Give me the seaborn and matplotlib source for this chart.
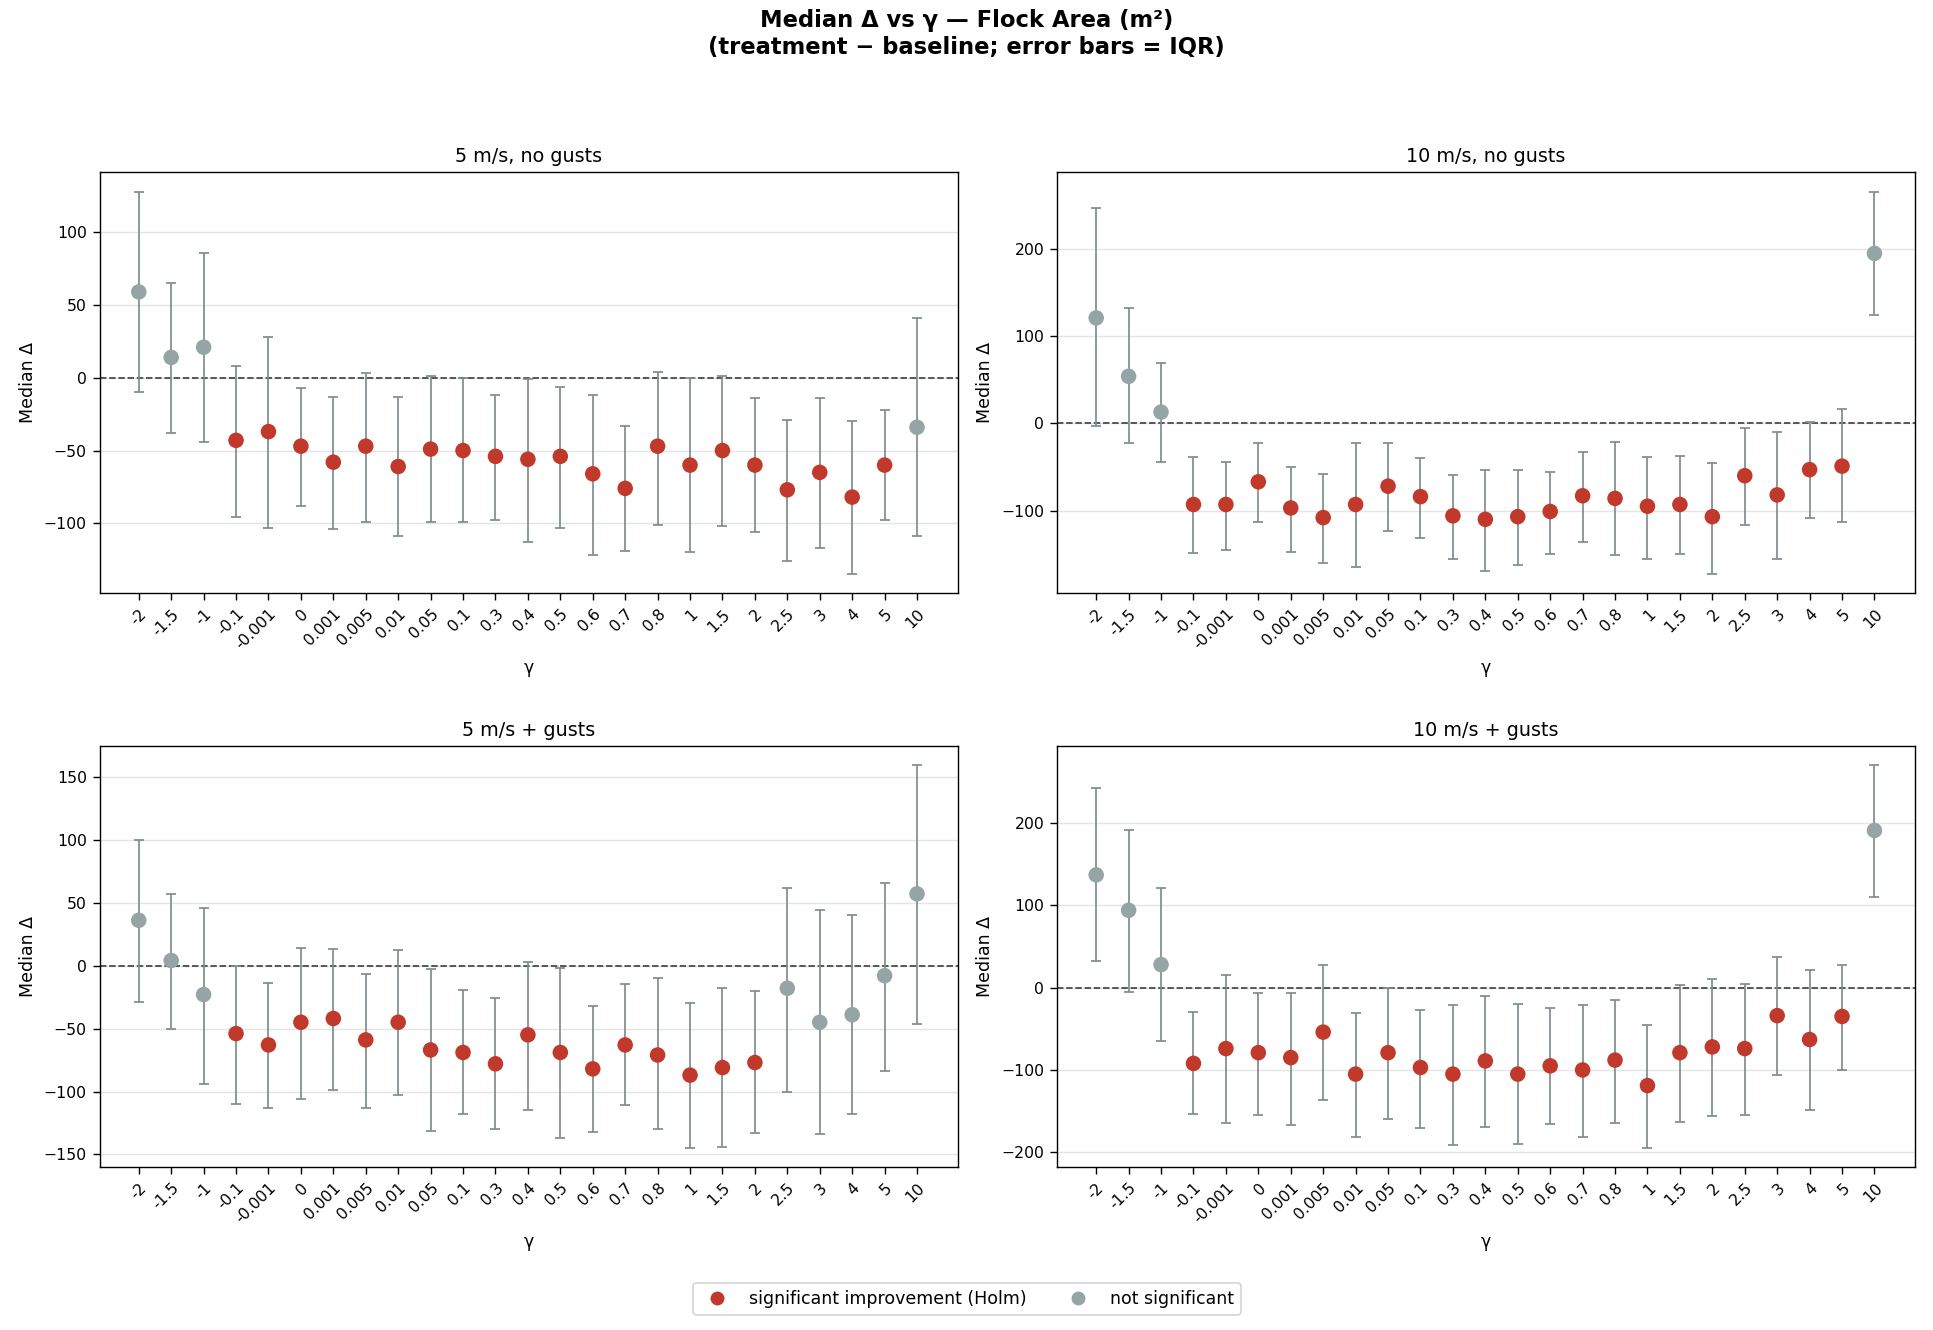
import numpy as np
import pandas as pd
import matplotlib
matplotlib.use("Agg")
import matplotlib.pyplot as plt
import seaborn as sns
from matplotlib.lines import Line2D

gammas = ["-2","-1.5","-1","-0.1","-0.001","0","0.001","0.005","0.01","0.05","0.1","0.3","0.4","0.5","0.6","0.7","0.8","1","1.5","2","2.5","3","4","5","10"]

titles = ["5 m/s, no gusts", "10 m/s, no gusts", "5 m/s + gusts", "10 m/s + gusts"]

med_5n = [59,14,21,-43,-37,-47,-58,-47,-61,-49,-50,-54,-56,-54,-66,-76,-47,-60,-50,-60,-77,-65,-82,-60,-34]
lo_5n = [-10,-38,-44,-96,-103,-88,-104,-99,-109,-99,-99,-98,-113,-103,-122,-119,-101,-120,-102,-106,-126,-117,-135,-98,-109]
hi_5n = [128,65,86,8,28,-7,-13,3,-13,1,0,-12,-1,-6,-12,-33,4,0,1,-14,-29,-14,-30,-22,41]
sig_5n = [0,0,0]+[1]*21+[0]

med_10n = [121,54,13,-93,-93,-67,-97,-108,-93,-72,-84,-106,-110,-107,-101,-83,-86,-95,-93,-107,-60,-82,-53,-49,195]
lo_10n = [-3,-22,-44,-149,-145,-113,-148,-160,-165,-123,-131,-156,-169,-162,-150,-136,-151,-155,-150,-173,-117,-155,-109,-113,124]
hi_10n = [247,132,69,-39,-44,-22,-50,-58,-22,-22,-40,-59,-53,-53,-56,-33,-21,-38,-37,-45,-5,-10,2,16,266]
sig_10n = [0,0,0]+[1]*21+[0]

med_5g = [36,4,-23,-54,-63,-45,-42,-59,-45,-67,-69,-78,-55,-69,-82,-63,-71,-87,-81,-77,-18,-45,-39,-8,57]
lo_5g = [-29,-50,-94,-110,-113,-106,-99,-113,-103,-131,-118,-130,-115,-137,-132,-111,-130,-145,-144,-133,-100,-134,-118,-84,-46]
hi_5g = [100,57,46,0,-14,14,13,-7,12,-3,-19,-26,3,-2,-32,-15,-10,-30,-18,-20,62,44,40,66,159]
sig_5g = [0,0,0]+[1]*17+[0,0,0,0,0]

med_10g = [137,94,28,-92,-74,-79,-85,-54,-105,-79,-97,-105,-89,-105,-95,-100,-88,-119,-79,-72,-74,-34,-63,-35,191]
lo_10g = [32,-5,-65,-154,-165,-155,-167,-137,-182,-159,-170,-191,-169,-190,-166,-181,-164,-195,-163,-156,-155,-106,-149,-100,110]
hi_10g = [242,192,121,-30,15,-6,-6,28,-31,-1,-27,-21,-10,-20,-25,-21,-15,-45,3,11,5,37,21,27,270]
sig_10g = [0,0,0]+[1]*21+[0]

panels = [(med_5n,lo_5n,hi_5n,sig_5n),(med_10n,lo_10n,hi_10n,sig_10n),
          (med_5g,lo_5g,hi_5g,sig_5g),(med_10g,lo_10g,hi_10g,sig_10g)]

RED = "#c0392b"
GREY = "#95a5a6"
ECOL = "#7f8c8d"

sns.set_style("white")
plt.rcParams['font.family'] = ['DejaVu Sans']
for k in ["text.color", "axes.labelcolor", "xtick.color", "ytick.color"]:
    plt.rcParams[k] = "black"

fig, axes = plt.subplots(2, 2, figsize=(15.47, 10.64), dpi=125)
for ax, title, (med, lo, hi, sig) in zip(axes.flat, titles, panels):
    df = pd.DataFrame({"gamma": gammas, "med": med, "lo": lo, "hi": hi,
                       "sig": ["sig" if s else "ns" for s in sig]})
    x = np.arange(len(gammas))
    ax.yaxis.grid(True, color="#e5e5e5", linewidth=0.8)
    ax.set_axisbelow(True)
    ax.errorbar(x, df["med"], yerr=[df["med"]-df["lo"], df["hi"]-df["med"]],
                fmt="none", ecolor=ECOL, elinewidth=1, capsize=3, zorder=2)
    sns.scatterplot(data=df, x="gamma", y="med", hue="sig",
                    palette={"sig": RED, "ns": GREY}, s=80, edgecolor="none",
                    legend=False, ax=ax, zorder=3)
    ax.axhline(0, color="#444444", linestyle="--", linewidth=1, zorder=1)
    ax.set_xlim(-1.2, 25.25)
    ax.set_xticks(x)
    ax.set_xticklabels(gammas, rotation=45, ha="right", fontsize=9, rotation_mode="anchor")
    ax.tick_params(axis="y", labelsize=9)
    ax.tick_params(axis="both", which="both", length=4, left=True, bottom=True)
    ax.set_xlabel("γ", fontsize=10)
    ax.set_ylabel("Median Δ", fontsize=10)
    ax.set_title(title, fontsize=11)
    for sp in ax.spines.values():
        sp.set_color("black")

fig.suptitle("Median Δ vs γ — Flock Area (m²)\n(treatment − baseline; error bars = IQR)",
             fontsize=13, fontweight="bold", y=0.993)
handles = [Line2D([], [], marker="o", color="none", markerfacecolor=RED, markeredgecolor="none", markersize=8,
                  label="significant improvement (Holm)"),
           Line2D([], [], marker="o", color="none", markerfacecolor=GREY, markeredgecolor="none", markersize=8,
                  label="not significant")]
fig.legend(handles=handles, loc="lower center", ncol=2, fontsize=10, bbox_to_anchor=(0.5, 0.005))
fig.tight_layout(rect=[0, 0.045, 1, 0.955], h_pad=2.5)
fig.savefig("out.png", dpi=125)
